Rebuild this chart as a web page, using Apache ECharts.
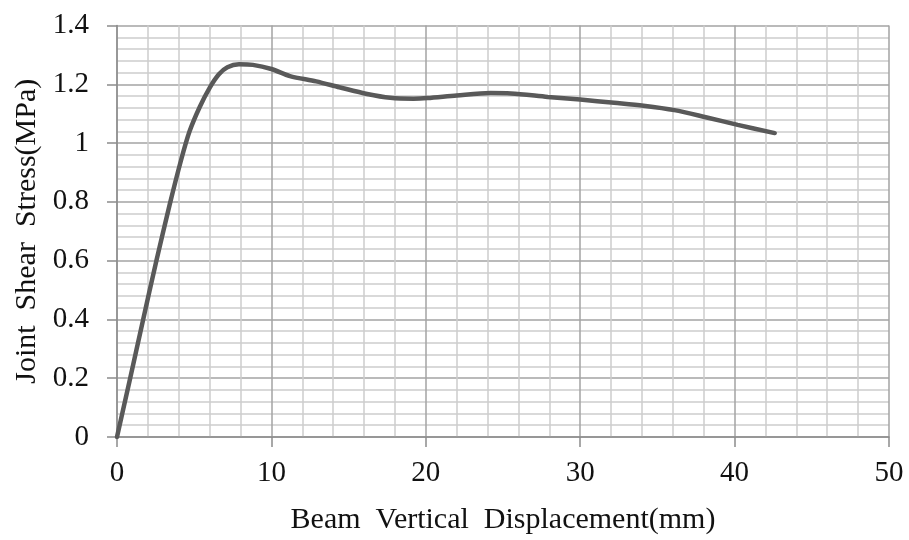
<!DOCTYPE html>
<html>
<head>
<meta charset="utf-8">
<script src="https://cdn.jsdelivr.net/npm/echarts@6/dist/echarts.min.js"></script>
<style>
html,body{margin:0;padding:0;background:#fff;}
#chart{width:909px;height:540px;}
</style>
</head>
<body>
<div id="chart"></div>
<script>
// Beam vertical displacement (mm)
const displacement = [0, 0.81, 1.67, 2.54, 3.4, 4.16, 4.7, 5.35, 6.0, 6.6, 7.15, 7.9, 8.8, 10, 11.2, 12.9, 14.4, 16.2, 17.7, 19.2, 20.1, 22, 24.2, 25.5, 27.9, 30, 32.2, 34.1, 36.1, 38.2, 40.2, 42.6];
// Joint shear stress (MPa)
const shearStress = [0, 0.19, 0.394, 0.597, 0.788, 0.944, 1.04, 1.122, 1.188, 1.234, 1.258, 1.268, 1.266, 1.252, 1.228, 1.21, 1.19, 1.167, 1.154, 1.151, 1.153, 1.162, 1.17, 1.169, 1.157, 1.148, 1.137, 1.127, 1.112, 1.087, 1.062, 1.034];
const xTitle = 'Beam  Vertical  Displacement(mm)';
const yTitle = 'Joint  Shear  Stress(MPa)';

const FONT = "'Liberation Serif', 'Times New Roman', serif";
const majorColor = '#a3a3a3';
const minorColor = '#cdcdcd';

const chart = echarts.init(document.getElementById('chart'), null, {renderer: 'canvas'});
chart.setOption({
  animation: false,
  backgroundColor: '#fff',
  grid: {left: 117, right: 20, top: 25.5, bottom: 101, containLabel: false},
  xAxis: {
    type: 'value', min: 0, max: 50, interval: 10,
    name: xTitle, nameLocation: 'middle', nameGap: 68,
    nameTextStyle: {fontFamily: FONT, fontSize: 30, color: '#111'},
    axisLine: {show: true, onZero: false, lineStyle: {color: '#8c8c8c', width: 1.5}},
    axisTick: {show: true, length: 10, lineStyle: {color: '#8c8c8c', width: 1.5}},
    minorTick: {show: false, splitNumber: 5},
    axisLabel: {fontFamily: FONT, fontSize: 29, color: '#111', margin: 22},
    splitLine: {show: true, lineStyle: {color: majorColor, width: 1.5}},
    minorSplitLine: {show: true, lineStyle: {color: minorColor, width: 1.5}}
  },
  yAxis: {
    type: 'value', min: 0, max: 1.4, interval: 0.2,
    name: yTitle, nameLocation: 'middle', nameGap: 74, nameRotate: 90,
    nameTextStyle: {fontFamily: FONT, fontSize: 30, color: '#111'},
    axisLine: {show: true, lineStyle: {color: '#8c8c8c', width: 1.5}},
    axisTick: {show: true, length: 10, lineStyle: {color: '#8c8c8c', width: 1.5}},
    minorTick: {show: false, splitNumber: 5},
    axisLabel: {fontFamily: FONT, fontSize: 29, color: '#111', margin: 28,
      formatter: v => (Math.round(v * 10) / 10).toString()},
    splitLine: {show: true, lineStyle: {color: majorColor, width: 1.5}},
    minorSplitLine: {show: true, lineStyle: {color: minorColor, width: 1.5}}
  },
  series: [{
    type: 'line',
    data: displacement.map((x, i) => [x, shearStress[i]]),
    smooth: 0.3,
    showSymbol: false,
    lineStyle: {color: '#595959', width: 4.5, cap: 'round'}
  }]
});
</script>
</body>
</html>
